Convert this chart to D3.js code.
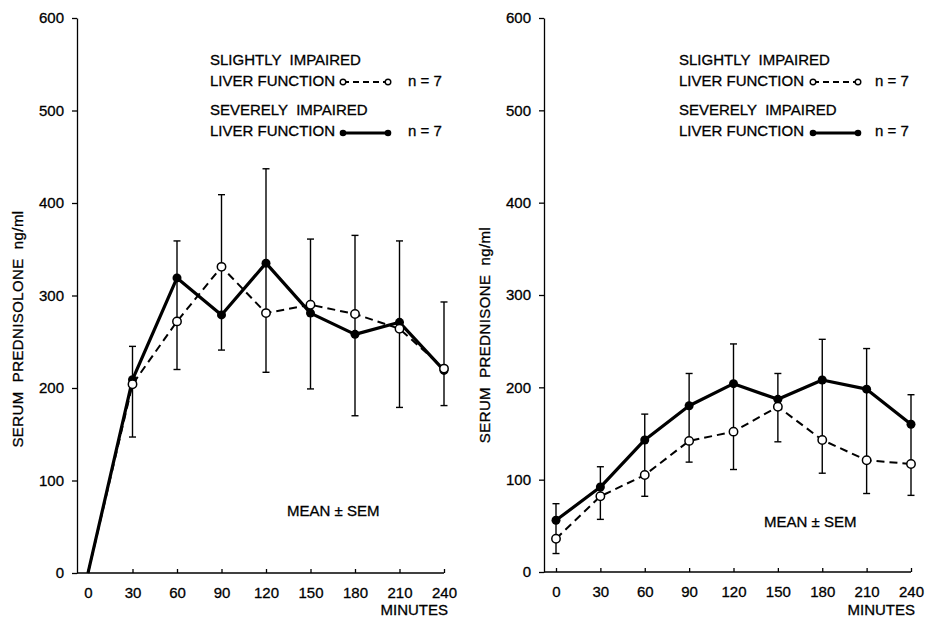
<!DOCTYPE html>
<html>
<head>
<meta charset="utf-8">
<script src="https://cdn.jsdelivr.net/npm/d3@7"></script>
<style>
  body { margin: 0; background: #fff; }
  svg text { font-family: "Liberation Sans", Arial, sans-serif; fill: #000; white-space: pre; stroke: #000; stroke-width: 0.3px; }
</style>
</head>
<body>
<div id="myChart"></div>
<script>
// Set width and height of the SVG
const w = 937;
const h = 622;

// Data (ng/ml)
const minutes = [0, 30, 60, 90, 120, 150, 180, 210, 240];
const yTicks = [0, 100, 200, 300, 400, 500, 600];

// left panel: serum prednisolone
const leftSlight = [0, 204, 272, 331, 281, 290, 280, 264, 221];
const leftSevere = [0, 209, 319, 279, 335, 281, 258, 271, 219];
const leftBarTop = [null, 245, 359, 409, 437, 361, 365, 359, 293];
const leftBarBottom = [null, 147, 220, 241, 217, 199, 170, 179, 181];

// right panel: serum prednisone
const rightSlight = [36, 82, 105, 142, 152, 179, 143, 121, 117];
const rightSevere = [56, 92, 143, 180, 204, 187, 208, 198, 160];
const rightBarTop = [74, 114, 171, 215, 247, 215, 252, 242, 192];
const rightBarBottom = [20, 57, 82, 119, 111, 141, 107, 85, 83];

const panels = [
  {axisX: 77, x0: 88, x1: 444, yTop: 18, yBottom: 573,
   yLabel: "SERUM  PREDNISOLONE  ng/ml", yLabelY: 329,
   slight: leftSlight, severe: leftSevere, barTop: leftBarTop, barBottom: leftBarBottom,
   legendX: 210, symX: 343, nX: 408, meanX: 287, meanY: 516},
  {axisX: 544, x0: 556, x1: 911, yTop: 18, yBottom: 572,
   yLabel: "SERUM  PREDNISONE  ng/ml", yLabelY: 335,
   slight: rightSlight, severe: rightSevere, barTop: rightBarTop, barBottom: rightBarBottom,
   legendX: 679, symX: 813, nX: 875, meanX: 764, meanY: 527}
];

const svg = d3.select("#myChart")
  .append("svg")
    .attr("width", w)
    .attr("height", h)
    .attr("viewBox", [0, 0, w, h]);

panels.forEach(p => {
  const g = svg.append("g");

  const xScale = d3.scaleLinear().domain([0, 240]).range([p.x0, p.x1]);
  const yScale = d3.scaleLinear().domain([0, 600]).range([p.yBottom, p.yTop]);

  // y axis
  const yAx = g.append("g")
    .attr("transform", `translate(${p.axisX},0)`)
    .call(d3.axisLeft(yScale).tickValues(yTicks).tickSizeInner(5).tickSizeOuter(0).tickPadding(8));
  yAx.selectAll("text").style("font-size", "15px").style("font-family", "Liberation Sans, Arial, sans-serif");
  yAx.selectAll("path, line").attr("stroke", "#000").attr("stroke-width", 1.3);

  // x axis
  const xAx = g.append("g")
    .attr("transform", `translate(0,${p.yBottom})`)
    .call(d3.axisBottom(xScale).tickValues(minutes).tickSizeInner(-4).tickSizeOuter(0).tickPadding(14));
  xAx.select(".domain").remove();
  xAx.append("line")
    .attr("x1", p.axisX).attr("x2", p.x1)
    .attr("stroke", "#000").attr("stroke-width", 1.3);
  xAx.selectAll("text").style("font-size", "15px").style("font-family", "Liberation Sans, Arial, sans-serif");
  xAx.selectAll(".tick line").attr("stroke", "#000").attr("stroke-width", 1.3);

  g.append("text")
    .attr("x", p.x1 + 4)
    .attr("y", 615)
    .attr("text-anchor", "end")
    .style("font-size", "15px")
    .text("MINUTES");

  // y axis label
  g.append("text")
    .attr("transform", `translate(${p.axisX - 54},${p.yLabelY}) rotate(-90)`)
    .attr("text-anchor", "middle")
    .style("font-size", "15px")
    .style("letter-spacing", "0.4px")
    .text(p.yLabel);

  // error bars
  const bars = minutes.map((m, i) => ({m, top: p.barTop[i], bottom: p.barBottom[i]}))
    .filter(d => d.top !== null);
  const barG = g.append("g").attr("stroke", "#000").attr("stroke-width", 1.4);
  barG.selectAll("line.bar")
    .data(bars)
    .join("line")
      .attr("class", "bar")
      .attr("x1", d => xScale(d.m)).attr("x2", d => xScale(d.m))
      .attr("y1", d => yScale(d.top)).attr("y2", d => yScale(d.bottom));
  barG.selectAll("line.capTop")
    .data(bars)
    .join("line")
      .attr("class", "capTop")
      .attr("x1", d => xScale(d.m) - 3.5).attr("x2", d => xScale(d.m) + 3.5)
      .attr("y1", d => yScale(d.top)).attr("y2", d => yScale(d.top));
  barG.selectAll("line.capBottom")
    .data(bars)
    .join("line")
      .attr("class", "capBottom")
      .attr("x1", d => xScale(d.m) - 3.5).attr("x2", d => xScale(d.m) + 3.5)
      .attr("y1", d => yScale(d.bottom)).attr("y2", d => yScale(d.bottom));

  // lines
  const line = d3.line()
    .x((d, i) => xScale(minutes[i]))
    .y(d => yScale(d));

  g.append("path")
    .attr("d", line(p.severe))
    .attr("fill", "none")
    .attr("stroke", "#000")
    .attr("stroke-width", 3.2)
    .attr("stroke-linejoin", "round");

  g.append("path")
    .attr("d", line(p.slight))
    .attr("fill", "none")
    .attr("stroke", "#000")
    .attr("stroke-width", 2)
    .attr("stroke-dasharray", "8,5");

  // markers (none drawn at the zero origin)
  g.selectAll("circle.severe")
    .data(p.severe.map((v, i) => ({m: minutes[i], v})).filter(d => d.v > 0))
    .join("circle")
      .attr("class", "severe")
      .attr("cx", d => xScale(d.m))
      .attr("cy", d => yScale(d.v))
      .attr("r", 4.5)
      .attr("fill", "#000");

  g.selectAll("circle.slight")
    .data(p.slight.map((v, i) => ({m: minutes[i], v})).filter(d => d.v > 0))
    .join("circle")
      .attr("class", "slight")
      .attr("cx", d => xScale(d.m))
      .attr("cy", d => yScale(d.v))
      .attr("r", 4.2)
      .attr("fill", "#fff")
      .attr("stroke", "#000")
      .attr("stroke-width", 1.5);

  // legend
  const lg = g.append("g").style("font-size", "15px");
  lg.append("text").attr("x", p.legendX).attr("y", 65).text("SLIGHTLY  IMPAIRED");
  lg.append("text").attr("x", p.legendX).attr("y", 86).text("LIVER FUNCTION");
  lg.append("text").attr("x", p.legendX).attr("y", 115).text("SEVERELY  IMPAIRED");
  lg.append("text").attr("x", p.legendX).attr("y", 136).text("LIVER FUNCTION");
  lg.append("text").attr("x", p.nX).attr("y", 86).text("n = 7");
  lg.append("text").attr("x", p.nX).attr("y", 136).text("n = 7");

  lg.append("line")
    .attr("x1", p.symX).attr("x2", p.symX + 45)
    .attr("y1", 82).attr("y2", 82)
    .attr("stroke", "#000").attr("stroke-width", 1.8).attr("stroke-dasharray", "6,4");
  lg.selectAll("circle.lo")
    .data([p.symX, p.symX + 45])
    .join("circle")
      .attr("class", "lo")
      .attr("cx", d => d).attr("cy", 82).attr("r", 2.8)
      .attr("fill", "#fff").attr("stroke", "#000").attr("stroke-width", 1.4);

  lg.append("line")
    .attr("x1", p.symX).attr("x2", p.symX + 45)
    .attr("y1", 133).attr("y2", 133)
    .attr("stroke", "#000").attr("stroke-width", 3);
  lg.selectAll("circle.lf")
    .data([p.symX, p.symX + 45])
    .join("circle")
      .attr("class", "lf")
      .attr("cx", d => d).attr("cy", 133).attr("r", 3.3)
      .attr("fill", "#000");

  g.append("text")
    .attr("x", p.meanX).attr("y", p.meanY)
    .style("font-size", "15px")
    .text("MEAN \u00b1 SEM");
});
</script>
</body>
</html>
